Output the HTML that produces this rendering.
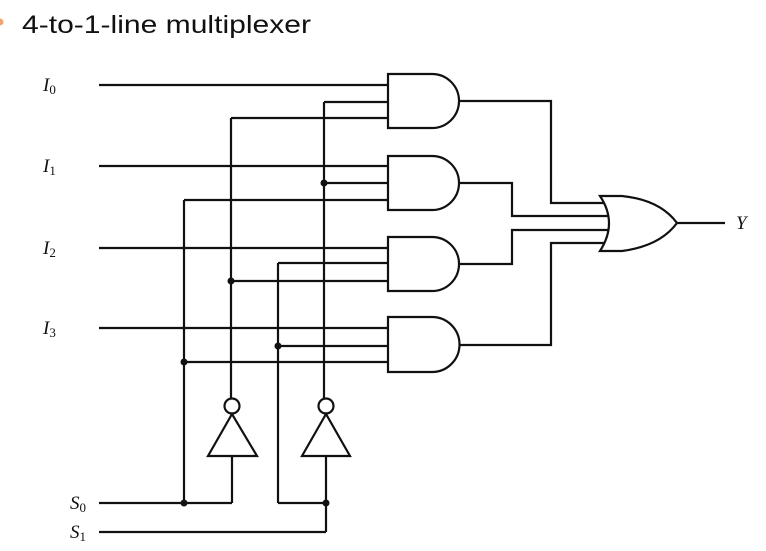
<!DOCTYPE html>
<html><head><meta charset="utf-8"><style>
html,body{margin:0;padding:0;background:#fff;width:766px;height:551px;overflow:hidden}
svg{display:block}
</style></head><body>
<svg width="766" height="551" viewBox="0 0 766 551" xmlns="http://www.w3.org/2000/svg">
<circle cx="0" cy="22" r="3.5" fill="#f4a46a"/>
<text x="22" y="33" font-family="Liberation Sans, sans-serif" font-size="25" fill="#111" textLength="289" lengthAdjust="spacingAndGlyphs">4-to-1-line multiplexer</text>
<g font-family="Liberation Serif, serif" font-style="italic" font-size="19" fill="#111">
<text x="43" y="91">I<tspan font-style="normal" font-size="13" dy="3">0</tspan></text>
<text x="43" y="172">I<tspan font-style="normal" font-size="13" dy="3">1</tspan></text>
<text x="43" y="254">I<tspan font-style="normal" font-size="13" dy="3">2</tspan></text>
<text x="43" y="334">I<tspan font-style="normal" font-size="13" dy="3">3</tspan></text>
<text x="70" y="509">S<tspan font-style="normal" font-size="13" dy="3">0</tspan></text>
<text x="70" y="538">S<tspan font-style="normal" font-size="13" dy="3">1</tspan></text>
<text x="736" y="229">Y</text>
</g>
<g stroke="#111" stroke-width="2.2" fill="none">
<path d="M99 85H388 M99 166H388 M99 248H388 M99 328H388"/>
<path d="M324 102H388 M231 118H388"/>
<path d="M324 183H388 M184 200H388"/>
<path d="M278 263H388 M231 281H388"/>
<path d="M278 346H388 M184 362H388"/>
<path d="M324 102V398 M231 118V398 M184 200V503 M278 263V503"/>
<circle cx="232" cy="406" r="7.5"/>
<circle cx="326" cy="406" r="7.5"/>
<path d="M232 414L208 456H257Z M326 414L302 456H350Z"/>
<path d="M232 456V503 M326 456V532"/>
<path d="M99 503H232 M278 503H326 M99 532H326"/>
<path d="M388 74H432A27 27 0 0 1 432 128H388Z"/>
<path d="M388 156H432A27 27 0 0 1 432 210H388Z"/>
<path d="M388 237H432A27 27 0 0 1 432 291H388Z"/>
<path d="M388 317H432A27.5 27.5 0 0 1 432 372H388Z"/>
<path d="M459 101H551V203H604 M459 183H512V216H608 M459 264H512V230H608 M459 345H551V243H604"/>
<path d="M600 196H622Q660 200 677 223Q660 246 622 251H600Q618 223 600 196Z"/>
<path d="M677 223H725"/>
</g>
<g fill="#111">
<circle cx="324" cy="183" r="3.5"/>
<circle cx="231" cy="281" r="3.5"/>
<circle cx="278" cy="346" r="3.5"/>
<circle cx="184" cy="362" r="3.5"/>
<circle cx="184" cy="503" r="3.5"/>
<circle cx="326" cy="503" r="3.5"/>
</g>
</svg>
</body></html>
